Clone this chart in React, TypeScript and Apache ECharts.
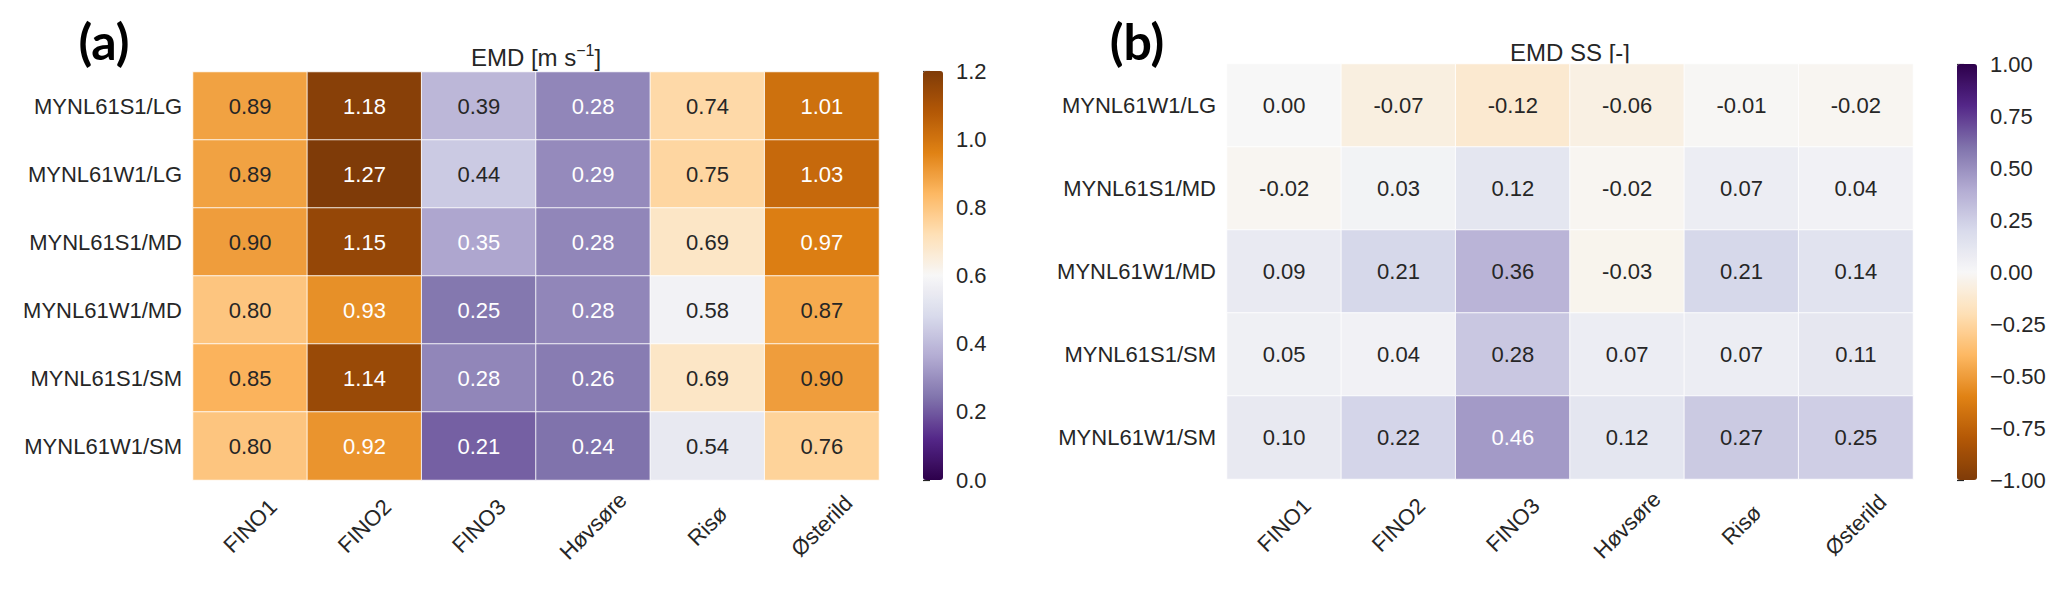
import React, { useEffect, useRef } from "react";
import * as echarts from "echarts";

const stations = ["FINO1", "FINO2", "FINO3", "Høvsøre", "Risø", "Østerild"];

const rowsA = ["MYNL61S1/LG", "MYNL61W1/LG", "MYNL61S1/MD", "MYNL61W1/MD", "MYNL61S1/SM", "MYNL61W1/SM"];
const emdS1LG = [0.89, 1.18, 0.39, 0.28, 0.74, 1.01];
const emdW1LG = [0.89, 1.27, 0.44, 0.29, 0.75, 1.03];
const emdS1MD = [0.90, 1.15, 0.35, 0.28, 0.69, 0.97];
const emdW1MD = [0.80, 0.93, 0.25, 0.28, 0.58, 0.87];
const emdS1SM = [0.85, 1.14, 0.28, 0.26, 0.69, 0.90];
const emdW1SM = [0.80, 0.92, 0.21, 0.24, 0.54, 0.76];
const emdRows = [emdS1LG, emdW1LG, emdS1MD, emdW1MD, emdS1SM, emdW1SM];

const rowsB = ["MYNL61W1/LG", "MYNL61S1/MD", "MYNL61W1/MD", "MYNL61S1/SM", "MYNL61W1/SM"];
const ssW1LG = [0.00, -0.07, -0.12, -0.06, -0.01, -0.02];
const ssS1MD = [-0.02, 0.03, 0.12, -0.02, 0.07, 0.04];
const ssW1MD = [0.09, 0.21, 0.36, -0.03, 0.21, 0.14];
const ssS1SM = [0.05, 0.04, 0.28, 0.07, 0.07, 0.11];
const ssW1SM = [0.10, 0.22, 0.46, 0.12, 0.27, 0.25];
const ssRows = [ssW1LG, ssS1MD, ssW1MD, ssS1SM, ssW1SM];

const emdMin = 0;
const emdMax = 1.2;
const emdStep = 0.2;
const ssMin = -1;
const ssMax = 1;
const ssStep = 0.25;

const PUOR = ["#7f3b08", "#b35806", "#e08214", "#fdb863", "#fee0b6", "#f7f7f7", "#d8daeb", "#b2abd2", "#8073ac", "#542788", "#2d004b"];
const PUOR_R = PUOR.slice().reverse();

const FONT = "'Liberation Sans', Arial, Helvetica, sans-serif";
const PANEL_FONT = "Lato, 'Liberation Sans', sans-serif";
const DARK = "#262626";

function hexRgb(h: string) {
  return [parseInt(h.slice(1, 3), 16), parseInt(h.slice(3, 5), 16), parseInt(h.slice(5, 7), 16)];
}

function labelColor(v: number, min: number, max: number, colors: string[]) {
  let t = (v - min) / (max - min);
  t = Math.max(0, Math.min(1, t));
  const idx = Math.min(255, Math.floor(t * 256));
  const tq = idx / 255;
  const pos = tq * (colors.length - 1);
  const i = Math.min(colors.length - 2, Math.floor(pos));
  const f = pos - i;
  const a = hexRgb(colors[i]);
  const b = hexRgb(colors[i + 1]);
  const rgb = a.map((c, k) => (c + (b[k] - c) * f) / 255);
  const lin = rgb.map((c) => (c <= 0.03928 ? c / 12.92 : Math.pow((c + 0.055) / 1.055, 2.4)));
  const L = 0.2126 * lin[0] + 0.7152 * lin[1] + 0.0722 * lin[2];
  return L > 0.408 ? DARK : "#ffffff";
}

function buildData(rows: number[][], min: number, max: number, colors: string[]) {
  const out: any[] = [];
  rows.forEach((row, i) => {
    row.forEach((v, j) => {
      out.push({ value: [j, i, v], label: { color: labelColor(v, min, max, colors) } });
    });
  });
  return out;
}

export default function App() {
  const ref = useRef<HTMLDivElement>(null);
  useEffect(() => {
    if (!ref.current) return;
    const chart = echarts.init(ref.current, null, { renderer: "svg" });

    const gridA = { left: 193, top: 72, width: 686, height: 408 };
    const gridB = { left: 1227, top: 64, width: 686, height: 415 };
    const cbA = { left: 923, top: 71, width: 20, height: 409 };
    const cbB = { left: 1957, top: 64, width: 20, height: 416 };

    const xCat = (gridIndex: number) => ({
      type: "category",
      gridIndex,
      data: stations,
      axisLine: { show: false },
      axisTick: { show: false },
      splitLine: { show: false },
      axisLabel: {
        rotate: 45,
        align: "center",
        verticalAlign: "middle",
        margin: 46,
        fontSize: 22,
        color: DARK,
        fontFamily: FONT,
        interval: 0,
      },
    });
    const yCat = (gridIndex: number, rows: string[]) => ({
      type: "category",
      gridIndex,
      data: rows,
      inverse: true,
      axisLine: { show: false },
      axisTick: { show: false },
      splitLine: { show: false },
      axisLabel: { margin: 11, fontSize: 22, color: DARK, fontFamily: FONT, interval: 0 },
    });
    const xHidden = (gridIndex: number) => ({
      type: "value",
      gridIndex,
      show: false,
      min: 0,
      max: 1,
    });
    const yBar = (gridIndex: number, min: number, max: number, step: number, fmt: (v: number) => string) => ({
      type: "value",
      gridIndex,
      min,
      max,
      interval: step,
      position: "right",
      axisLine: { show: false },
      splitLine: { show: false },
      axisTick: { show: true, length: 7, inside: false, lineStyle: { color: DARK, width: 1.2 } },
      axisLabel: { margin: 13, fontSize: 22, color: DARK, fontFamily: FONT, formatter: fmt },
    });

    const heat = (xi: number, yi: number, data: any[]) => ({
      type: "heatmap",
      xAxisIndex: xi,
      yAxisIndex: yi,
      data,
      itemStyle: { borderColor: "rgba(255,255,255,0.85)", borderWidth: 1 },
      label: {
        show: true,
        fontSize: 22,
        fontFamily: FONT,
        formatter: (p: any) => Number(p.value[2]).toFixed(2),
      },
      emphasis: { disabled: true },
    });

    const option: any = {
      animation: false,
      backgroundColor: "#ffffff",
      textStyle: { fontFamily: FONT },
      grid: [gridA, gridB, cbA, cbB],
      xAxis: [xCat(0), xCat(1), xHidden(2), xHidden(3)],
      yAxis: [
        yCat(0, rowsA),
        yCat(1, rowsB),
        yBar(2, emdMin, emdMax, emdStep, (v: number) => v.toFixed(1)),
        yBar(3, ssMin, ssMax, ssStep, (v: number) => {
          const s = Math.abs(v).toFixed(2);
          return v < -1e-9 ? "\u2212" + s : s;
        }),
      ],
      visualMap: [
        {
          type: "continuous",
          seriesIndex: 0,
          dimension: 2,
          min: emdMin,
          max: emdMax,
          calculable: false,
          orient: "vertical",
          left: cbA.left,
          top: cbA.top,
          itemWidth: cbA.width,
          itemHeight: cbA.height,
          padding: 0,
          inRange: { color: PUOR_R },
          hoverLink: false,
        },
        {
          type: "continuous",
          seriesIndex: 1,
          dimension: 2,
          min: ssMin,
          max: ssMax,
          calculable: false,
          orient: "vertical",
          left: cbB.left,
          top: cbB.top,
          itemWidth: cbB.width,
          itemHeight: cbB.height,
          padding: 0,
          inRange: { color: PUOR },
          hoverLink: false,
        },
      ],
      series: [
        heat(0, 0, buildData(emdRows, emdMin, emdMax, PUOR_R)),
        heat(1, 1, buildData(ssRows, ssMin, ssMax, PUOR)),
      ],
      graphic: [
        {
          type: "text",
          x: 104,
          y: 41,
          style: { text: "(a)", fontSize: 50, fontWeight: "bold", fontFamily: PANEL_FONT, fill: "#000", align: "center", verticalAlign: "middle" },
        },
        {
          type: "text",
          x: 1137,
          y: 41,
          style: { text: "(b)", fontSize: 50, fontWeight: "bold", fontFamily: PANEL_FONT, fill: "#000", align: "center", verticalAlign: "middle" },
        },
        {
          type: "text",
          x: 536,
          y: 57,
          style: {
            text: "EMD [m s{sup|\u22121}]",
            fontSize: 24,
            lineHeight: 30,
            fontFamily: FONT,
            fill: DARK,
            align: "center",
            verticalAlign: "middle",
            rich: { sup: { fontSize: 16, lineHeight: 16, verticalAlign: "top", fill: DARK, fontFamily: FONT } },
          },
        },
        {
          type: "text",
          x: 1570,
          y: 52,
          style: { text: "EMD SS [-]", fontSize: 24, lineHeight: 30, fontFamily: FONT, fill: DARK, align: "center", verticalAlign: "middle" },
        },
      ],
    };
    chart.setOption(option);
    return () => chart.dispose();
  }, []);
  return <div ref={ref} style={{ position: "absolute", left: 0, top: 0, width: 2068, height: 589 }} />;
}
